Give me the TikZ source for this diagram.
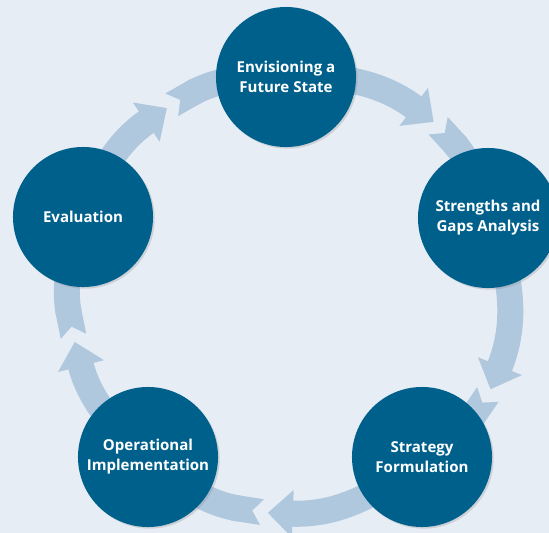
\documentclass[tikz,border=0pt]{standalone}
\usepackage{fontspec}
\setsansfont{Open Sans}
\usetikzlibrary{arrows.meta,shadows}

\definecolor{pagebg}{RGB}{230,237,245}
\definecolor{stageblue}{RGB}{0,96,140}
\definecolor{ringblue}{RGB}{176,200,222}

\pgfdeclarelayer{background}
\pgfsetlayers{background,main}

\begin{document}
\begin{tikzpicture}[x=0.025cm, y=-0.025cm,
    stage/.style={circle, fill=stageblue, minimum size=3.5cm, inner sep=0pt,
      align=center, text=white, font=\sffamily\bfseries\fontsize{10.7}{14.2}\selectfont,
      drop shadow={opacity=0.25, shadow xshift=1.2pt, shadow yshift=-1.2pt}},
    ring/.style={draw=ringblue, line width=18.5pt,
      -{Triangle[length=17.8pt, width=32.7pt]}},
    ringtail/.style={draw=ringblue, line width=18.5pt,
      {Triangle Cap[reversed, length=7pt]}-}]
    \useasboundingbox (0,0) rectangle (549,533);

    % Stages
    \node[stage] (env)   at (286,77)  {Envisioning a\\Future State};
    \node[stage] (gaps)  at (488,218) {Strengths and\\Gaps Analysis};
    \node[stage] (strat) at (422,457) {Strategy\\Formulation};
    \node[stage] (impl)  at (148,457) {Operational\\Implementation};
    \node[stage] (eval)  at (83,217)  {Evaluation};

    % Heads and notches on the ring
    \coordinate (h1) at (433.7,121.9);
    \coordinate (n1) at (438.1,125.7);
    \coordinate (h2) at (490.5,389.3);
    \coordinate (n2) at (487.9,394.5);
    \coordinate (h3) at (267.8,512.8);
    \coordinate (n3) at (262.0,512.1);
    \coordinate (h4) at (74.7,341.9);
    \coordinate (n4) at (73.5,336.3);
    \coordinate (h5) at (166.9,108.0);
    \coordinate (n5) at (171.7,104.8);

    % Ring
    \begin{pgfonlayer}{background}
      \fill[pagebg] (0,0) rectangle (549,533);
      \draw[ring] (env.center) to[bend left=20] (h1);
      \draw[ringtail] (n1) to[bend left=14] (gaps.center);
      \draw[ring] (gaps.center) to[bend left=23] (h2);
      \draw[ringtail] (n2) to[bend left=12] (strat.center);
      \draw[ring] (strat.center) to[bend left=22] (h3);
      \draw[ringtail] (n3) to[bend left=17] (impl.center);
      \draw[ring] (impl.center) to[bend left=18] (h4);
      \draw[ringtail] (n4) to[bend left=16] (eval.center);
      \draw[ring] (eval.center) to[bend left=18] (h5);
      \draw[ringtail] (n5) to[bend left=16] (env.center);
    \end{pgfonlayer}
\end{tikzpicture}
\end{document}
